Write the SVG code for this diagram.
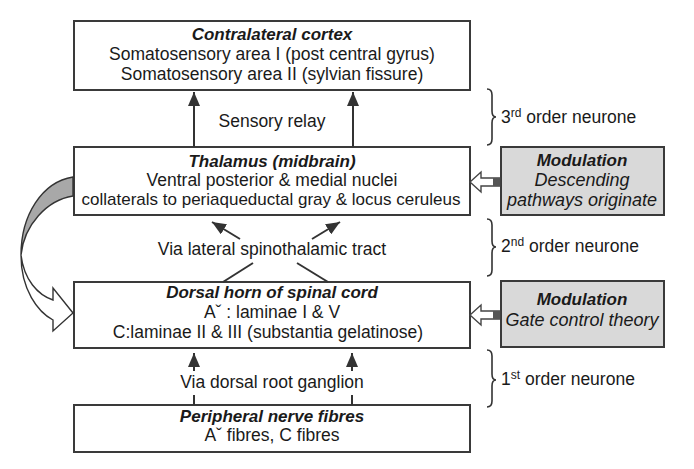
<svg xmlns="http://www.w3.org/2000/svg" width="694" height="469" viewBox="0 0 694 469">
<style>
text{font-family:"Liberation Sans",Arial,sans-serif;font-size:17.5px;fill:#1a1a1a;text-anchor:middle}
.t{font-weight:bold;font-style:italic;font-size:17px}
.i{font-style:italic;font-size:18px}
.s{font-size:17px}
.l{text-anchor:start}
.box{fill:#fff;stroke:#3a3a3a;stroke-width:2}
.mod{fill:#d9d9d9;stroke:#3a3a3a;stroke-width:2}
.ln{stroke:#333;stroke-width:2;fill:none}
.br{stroke:#333;stroke-width:1.6;fill:none}
.hol{fill:#fff;stroke:#444;stroke-width:1.4}
</style>
<defs>
<marker id="ah" markerUnits="userSpaceOnUse" markerWidth="14" markerHeight="12" refX="14" refY="6" orient="auto">
<path d="M0,0 L14,6 L0,12 Z" fill="#333"/>
</marker>
</defs>
<rect width="694" height="469" fill="#fff"/>

<g id="cortex">
<rect class="box" x="74" y="21" width="396" height="69"/>
<text class="t" x="272" y="40">Contralateral cortex</text>
<text x="272" y="60">Somatosensory area I (post central gyrus)</text>
<text x="272" y="80">Somatosensory area II (sylvian fissure)</text>
</g>

<g id="thalamus">
<rect class="box" x="74" y="147" width="396" height="68"/>
<text class="t" x="272" y="167">Thalamus (midbrain)</text>
<text x="272" y="186">Ventral posterior &amp; medial nuclei</text>
<text class="s" x="271" y="205">collaterals to periaqueductal gray &amp; locus ceruleus</text>
</g>

<g id="dorsal">
<rect class="box" x="74" y="282" width="396" height="66"/>
<text class="t" x="272" y="298">Dorsal horn of spinal cord</text>
<text x="272" y="318">Aˇ : laminae I &amp; V</text>
<text x="268" y="338">C:laminae II &amp; III (substantia gelatinose)</text>
</g>

<g id="peripheral">
<rect class="box" x="74" y="405" width="396" height="47"/>
<text class="t" x="272" y="422">Peripheral nerve fibres</text>
<text x="272" y="441">Aˇ  fibres, C fibres</text>
</g>

<g id="mod1">
<rect class="mod" x="501" y="147" width="163" height="68"/>
<text class="t" x="582" y="166">Modulation</text>
<text class="i" x="582" y="186">Descending</text>
<text class="i" x="582" y="206">pathways originate</text>
</g>

<g id="mod2">
<rect class="mod" x="501" y="281" width="163" height="66"/>
<text class="t" x="582" y="305">Modulation</text>
<text class="i" x="582" y="326">Gate control theory</text>
</g>

<g id="labels">
<text x="272" y="127">Sensory relay</text>
<text x="272" y="255">Via lateral spinothalamic tract</text>
<text x="272" y="388">Via dorsal root ganglion</text>
<text class="l" x="501" y="123">3<tspan font-size="12" dy="-6">rd</tspan><tspan dy="6"> order neurone</tspan></text>
<text class="l" x="501" y="252">2<tspan font-size="12" dy="-6">nd</tspan><tspan dy="6"> order neurone</tspan></text>
<text class="l" x="501" y="385">1<tspan font-size="12" dy="-6">st</tspan><tspan dy="6"> order neurone</tspan></text>
</g>

<g id="connectors">
<line class="ln" x1="194" y1="147" x2="194" y2="92" marker-end="url(#ah)"/>
<line class="ln" x1="353" y1="147" x2="353" y2="92" marker-end="url(#ah)"/>
<line class="ln" x1="240" y1="239" x2="212" y2="222" marker-end="url(#ah)"/>
<line class="ln" x1="312" y1="239" x2="340" y2="222" marker-end="url(#ah)"/>
<line class="ln" x1="253" y1="263" x2="223" y2="282"/>
<line class="ln" x1="297" y1="263" x2="328" y2="282"/>
<line class="ln" x1="194" y1="371" x2="194" y2="353" marker-end="url(#ah)"/>
<line class="ln" x1="352" y1="371" x2="352" y2="353" marker-end="url(#ah)"/>
<line class="ln" x1="194" y1="395" x2="194" y2="405"/>
<line class="ln" x1="352" y1="395" x2="352" y2="405"/>

<path class="br" d="M487,89 Q492,89 492,95 L492,111 Q492,117 496,117 Q492,117 492,123 L492,139 Q492,145 487,145"/>
<path class="br" d="M487,219 Q492,219 492,225 L492,241 Q492,247 496,247 Q492,247 492,253 L492,270 Q492,276 487,276"/>
<path class="br" d="M487,350 Q492,350 492,356 L492,374 Q492,380 496,380 Q492,380 492,386 L492,401 Q492,407 487,407"/>

<polygon class="hol" points="470,182 481,172 481,178 500,178 500,186 481,186 481,192"/>
<rect x="493" y="178" width="7" height="8" fill="#555"/>
<polygon class="hol" points="470,315 481,305 481,311 500,311 500,319 481,319 481,325"/>
<rect x="493" y="311" width="7" height="8" fill="#555"/>

<path d="M73,177 C42,182 21,215 21,255 C24,225 47,200 73,196 Z" fill="#a8a8a8" stroke="#333" stroke-width="1.4"/>
<path d="M21,255 C21,290 38,312 53,320 L53,331 L73,313 L53,288 L53,300 C38,295 24,280 21,255 Z" fill="#fff" stroke="#333" stroke-width="1.4" stroke-linejoin="miter"/>
</g>
</svg>
